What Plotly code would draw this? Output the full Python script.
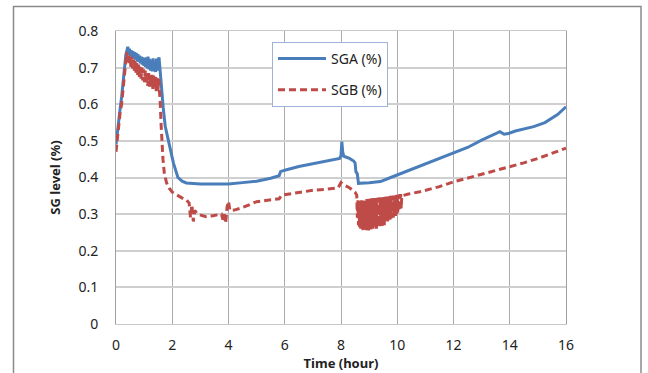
import plotly.graph_objects as go

# SGA (%) - time (hour) and level
sga_t = [0, 0.05, 0.1, 0.15, 0.2, 0.25, 0.3, 0.35, 0.42,
         0.45, 0.48, 0.51, 0.54, 0.57, 0.60, 0.63, 0.66, 0.69, 0.72, 0.75, 0.78, 0.81, 0.84, 0.87,
         0.90, 0.93, 0.96, 0.99, 1.02, 1.05, 1.08, 1.11, 1.14, 1.17, 1.20, 1.23, 1.26, 1.29, 1.32,
         1.35, 1.38, 1.41, 1.44, 1.47, 1.50, 1.53,
         1.56, 1.60, 1.68, 1.75, 1.86, 1.95, 2.04, 2.12, 2.2, 2.35, 2.5, 3.0, 3.5, 4.0, 4.5, 5.0,
         5.5, 5.8, 5.85, 6.0, 6.5, 7.0, 7.5, 7.95, 8.0, 8.03, 8.06, 8.1, 8.3, 8.45, 8.5, 8.53,
         8.58, 8.62, 9.0, 9.4, 9.7, 10.0, 10.4, 10.8, 11.5, 12.0, 12.5, 13.0, 13.4, 13.65, 13.8,
         13.95, 14.2, 14.5, 14.85, 15.25, 15.5, 15.7, 16.0]
sga_v = [0.49, 0.53, 0.57, 0.59, 0.62, 0.66, 0.70, 0.735, 0.757,
         0.735, 0.752, 0.732, 0.748, 0.728, 0.745, 0.725, 0.742, 0.722, 0.740, 0.718, 0.737, 0.715, 0.733, 0.712,
         0.730, 0.708, 0.728, 0.705, 0.726, 0.702, 0.728, 0.698, 0.730, 0.695, 0.724, 0.692, 0.720, 0.690, 0.725,
         0.690, 0.718, 0.688, 0.725, 0.692, 0.720, 0.728,
         0.70, 0.66, 0.59, 0.54, 0.50, 0.465, 0.44, 0.42, 0.40, 0.39, 0.385, 0.382, 0.381, 0.382, 0.386, 0.39,
         0.398, 0.405, 0.416, 0.42, 0.43, 0.438, 0.445, 0.452, 0.46, 0.498, 0.47, 0.458, 0.452, 0.445, 0.44, 0.416,
         0.41, 0.384, 0.386, 0.389, 0.398, 0.407, 0.418, 0.43, 0.45, 0.465, 0.482, 0.502, 0.515, 0.525, 0.518,
         0.52, 0.527, 0.532, 0.539, 0.55, 0.562, 0.572, 0.593]

# SGB (%)
sgb_t = [0, 0.05, 0.1, 0.15, 0.2, 0.25, 0.3, 0.38,
         0.41, 0.44, 0.47, 0.50, 0.53, 0.56, 0.59, 0.62, 0.65, 0.68, 0.71, 0.74, 0.77, 0.80, 0.83,
         0.86, 0.89, 0.92, 0.95, 0.98, 1.01, 1.04, 1.07, 1.10, 1.13, 1.16, 1.19, 1.22, 1.25, 1.28,
         1.31, 1.34, 1.37, 1.40, 1.43, 1.46, 1.49, 1.52, 1.54,
         1.57, 1.60, 1.63, 1.67, 1.72, 1.80, 1.90, 2.0, 2.1, 2.2, 2.4, 2.5, 2.6, 2.65, 2.7, 2.75,
         2.8, 2.9, 3.0, 3.2, 3.4, 3.6, 3.75, 3.8, 3.85, 3.9, 3.95, 4.0, 4.05, 4.2, 4.5, 5.0, 5.5,
         5.8, 5.9, 6.5, 7.0, 7.5, 7.9, 8.0, 8.1, 8.3, 8.5,
         8.56, 8.58, 8.60, 8.62, 8.64, 8.66, 8.68, 8.70, 8.72, 8.74, 8.76, 8.78, 8.80, 8.82, 8.84,
         8.86, 8.88, 8.90, 8.92, 8.94, 8.96, 8.98, 9.00, 9.02, 9.04, 9.06, 9.08, 9.10, 9.12, 9.14,
         9.16, 9.18, 9.20, 9.22, 9.24, 9.26, 9.28, 9.30, 9.32, 9.34, 9.36, 9.38, 9.40, 9.42, 9.44,
         9.46, 9.48, 9.50, 9.52, 9.54, 9.56, 9.58, 9.60, 9.62, 9.64, 9.66, 9.68, 9.70, 9.72, 9.74,
         9.76, 9.78, 9.80, 9.82, 9.84, 9.86, 9.88, 9.90, 9.92, 9.94, 9.96, 9.98, 10.00, 10.02, 10.04,
         10.06, 10.08, 10.10, 10.12, 10.14, 10.16,
         10.4, 10.8, 11.5, 12.0, 12.5, 13.0, 13.5, 14.0, 14.5, 15.0, 15.5, 16.0]
sgb_v = [0.47, 0.51, 0.55, 0.58, 0.60, 0.64, 0.69, 0.742,
         0.715, 0.738, 0.708, 0.732, 0.702, 0.728, 0.698, 0.722, 0.692, 0.718, 0.686, 0.712, 0.680, 0.708, 0.675,
         0.702, 0.670, 0.700, 0.665, 0.695, 0.660, 0.692, 0.655, 0.688, 0.650, 0.685, 0.648, 0.682, 0.645, 0.680,
         0.642, 0.678, 0.640, 0.675, 0.636, 0.672, 0.634, 0.670, 0.640,
         0.61, 0.55, 0.50, 0.45, 0.41, 0.385, 0.37, 0.36, 0.355, 0.35, 0.342, 0.339, 0.33, 0.29, 0.325, 0.28,
         0.31, 0.30, 0.298, 0.293, 0.295, 0.298, 0.30, 0.285, 0.30, 0.275, 0.32, 0.335, 0.31, 0.311, 0.318, 0.334, 0.339,
         0.342, 0.352, 0.36, 0.365, 0.368, 0.372, 0.386, 0.38, 0.372, 0.36,
         0.352, 0.29, 0.338, 0.27, 0.336, 0.262, 0.335, 0.258, 0.338, 0.26, 0.34, 0.255, 0.337, 0.258, 0.338,
         0.262, 0.34, 0.256, 0.341, 0.26, 0.34, 0.255, 0.342, 0.262, 0.341, 0.258, 0.343, 0.265, 0.342, 0.26,
         0.344, 0.262, 0.343, 0.268, 0.344, 0.26, 0.343, 0.266, 0.345, 0.27, 0.344, 0.265, 0.346, 0.272, 0.345,
         0.268, 0.346, 0.275, 0.347, 0.27, 0.346, 0.278, 0.348, 0.282, 0.347, 0.276, 0.348, 0.285, 0.349, 0.28,
         0.35, 0.288, 0.35, 0.292, 0.351, 0.29, 0.35, 0.298, 0.352, 0.295, 0.352, 0.30, 0.353, 0.302, 0.352,
         0.308, 0.354, 0.31, 0.355, 0.315, 0.35,
         0.355, 0.361, 0.375, 0.388, 0.398, 0.408, 0.418, 0.43, 0.44, 0.452, 0.466, 0.48]

x_ticks = [0, 2, 4, 6, 8, 10, 12, 14, 16]
y_ticks = [0, 0.1, 0.2, 0.3, 0.4, 0.5, 0.6, 0.7, 0.8]
y_tick_labels = ["0", "0.1", "0.2", "0.3", "0.4", "0.5", "0.6", "0.7", "0.8"]

FONT = "Noto Sans"

fig = go.Figure()
fig.add_trace(go.Scatter(x=sga_t, y=sga_v, mode="lines", name="SGA (%)", legendgroup="a",
                         line=dict(color="#4A7EBB", width=3)))
fig.add_trace(go.Scatter(x=sgb_t, y=sgb_v, mode="lines", name="SGB (%)", legendgroup="b",
                         line=dict(color="#BE4B48", width=3, dash="7px,4px")))

W, H = 648, 373
L, R, T, B = 116, 82, 31, 49
pw, ph = W - L - R, H - T - B

def px_x(x):
    return (x - L) / pw

def px_y(y):
    return (H - B - y) / ph

fig.update_layout(
    width=W, height=H,
    margin=dict(l=L, r=R, t=T, b=B, autoexpand=False),
    paper_bgcolor="white", plot_bgcolor="white",
    font=dict(family=FONT, size=14, color="#222"),
    showlegend=True,
    legend=dict(x=px_x(272), y=px_y(42), xanchor="left", yanchor="top",
                bgcolor="white", bordercolor="#9fb3d6", borderwidth=1,
                font=dict(family=FONT, size=14, color="#222"),
                tracegroupgap=10, itemwidth=48),
    xaxis=dict(range=[0, 16], tickvals=x_ticks, showgrid=True, gridcolor="#ababab", gridwidth=1,
               zeroline=False, showline=True, linecolor="#c8c8c8", mirror=True,
               ticks="", ticklabelstandoff=8, automargin=False,
               title=dict(text="<b>Time (hour)</b>", font=dict(size=13), standoff=4)),
    yaxis=dict(range=[0, 0.8], tickvals=y_ticks, ticktext=y_tick_labels, showgrid=True,
               gridcolor="#cfcfcf", gridwidth=1.5,
               zeroline=False, showline=True, linecolor="#a0a0a0", mirror=True,
               ticks="", ticklabelstandoff=14, automargin=False,
               title=dict(text="<b>SG level (%)</b>", font=dict(size=13), standoff=14)),
    shapes=[dict(type="rect", xref="paper", yref="paper",
                 x0=px_x(13.5), x1=px_x(641), y0=px_y(400), y1=px_y(6.5),
                 line=dict(color="#8a8a8a", width=1.5), fillcolor="rgba(0,0,0,0)", layer="above")],
)

fig.write_html("out.html", config={"displayModeBar": False},
               post_script="document.body.style.margin='0';")
